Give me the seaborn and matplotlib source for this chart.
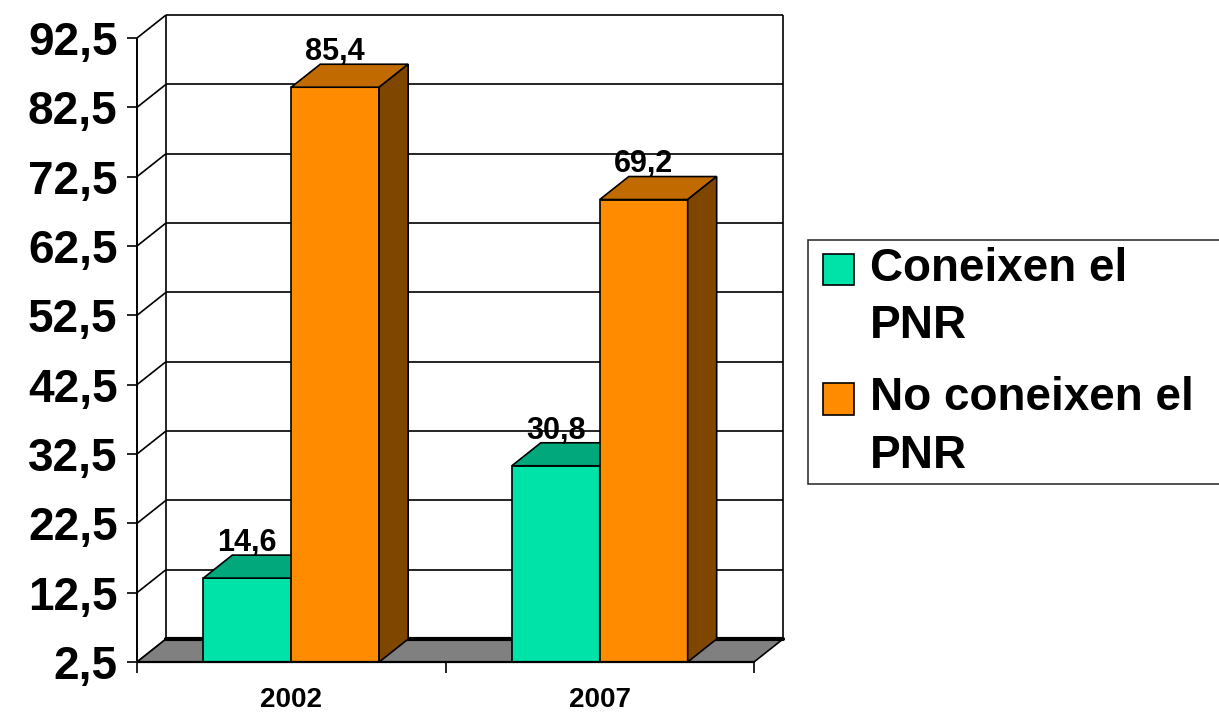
import numpy as np
import pandas as pd
import matplotlib
matplotlib.use('Agg')
import matplotlib.pyplot as plt
from matplotlib.patches import Polygon, Rectangle, Patch
from matplotlib.legend_handler import HandlerPatch
import seaborn as sns

# ---------------- dades ----------------
anys = ['2002', '2007']
series = ['Coneixen el\nPNR', 'No coneixen el\nPNR']
coneixen = [14.6, 30.8]
no_coneixen = [85.4, 69.2]
y_ticks = [2.5, 12.5, 22.5, 32.5, 42.5, 52.5, 62.5, 72.5, 82.5, 92.5]
y_tick_labels = ['2,5', '12,5', '22,5', '32,5', '42,5', '52,5', '62,5', '72,5', '82,5', '92,5']

# colors (cara frontal, cara superior, cara lateral)
front_colors = ['#00E3A8', '#FF8C00']
top_colors = ['#00A87C', '#C06A00']
side_colors = ['#007F5E', '#7F4600']

W, H = 1219, 714
YMIN, YMAX = 2.5, 92.5
# profunditat 3D en unitats de dades (29 px a la dreta, 23 px amunt)
DX = 29 * 2 / 617
DY = 23 * (YMAX - YMIN) / 624

sns.set_theme(style='white')
plt.rcParams['font.family'] = ['Liberation Sans', 'DejaVu Sans']
plt.rcParams['text.color'] = 'black'
plt.rcParams['xtick.color'] = 'black'
plt.rcParams['ytick.color'] = 'black'

fig = plt.figure(figsize=(W / 100, H / 100), dpi=100)
ax = fig.add_axes([137 / W, 52 / H, 646 / W, 647 / H])

df = pd.DataFrame({
    'any': anys * 2,
    'serie': [series[0]] * len(anys) + [series[1]] * len(anys),
    'valor': coneixen + no_coneixen,
})

sns.barplot(data=df, x='any', y='valor', hue='serie', hue_order=series,
            palette=front_colors, saturation=1, width=0.57,
            edgecolor='black', linewidth=1.2, legend=False, ax=ax)

ax.set_xlim(-0.5, 1.5 + DX)
ax.set_ylim(YMIN, YMAX + DY)
ax.set_xlabel('')
ax.set_ylabel('')
for s in ax.spines.values():
    s.set_visible(False)

# parets del fons i lateral
line_kw = dict(color='black', lw=1.2, clip_on=False, zorder=1, solid_capstyle='butt')
for y in y_ticks:
    ax.plot([-0.5 + DX, 1.5 + DX], [y + DY, y + DY], **line_kw)
    ax.plot([-0.5, -0.5 + DX], [y, y + DY], **line_kw)
ax.plot([-0.5 + DX] * 2, [YMIN + DY, YMAX + DY], **line_kw)
ax.plot([1.5 + DX] * 2, [YMIN + DY, YMAX + DY], **line_kw)

# terra
floor = Polygon([(-0.5, YMIN), (1.5, YMIN), (1.5 + DX, YMIN + DY), (-0.5 + DX, YMIN + DY)],
                closed=True, facecolor='#808080', edgecolor='black', lw=1.2,
                clip_on=False, zorder=2)
ax.add_patch(floor)
ax.plot([-0.5 + DX, 1.5 + DX], [YMIN + DY, YMIN + DY], color='black', lw=3,
        clip_on=False, zorder=2)

# cares 3D de les barres
for k, cont in enumerate(ax.containers):
    for bar in cont:
        x0 = bar.get_x()
        x1 = x0 + bar.get_width()
        h = bar.get_height()
        bar.set_zorder(3 + k)
        top = Polygon([(x0, h), (x1, h), (x1 + DX, h + DY), (x0 + DX, h + DY)],
                      closed=True, facecolor=top_colors[k], edgecolor='black',
                      lw=1.2, zorder=3 + k, clip_on=False)
        side = Polygon([(x1, YMIN), (x1 + DX, YMIN + DY), (x1 + DX, h + DY), (x1, h)],
                       closed=True, facecolor=side_colors[k], edgecolor='black',
                       lw=1.2, zorder=3 + k, clip_on=False)
        ax.add_patch(top)
        ax.add_patch(side)
        ax.text(x0 + bar.get_width() / 2, h + DY + 0.6, f'{h:.1f}'.replace('.', ','),
                ha='center', va='baseline', fontsize=22, fontweight='bold',
                color='black', zorder=10)

# eix frontal
ax.plot([-0.5, -0.5], [YMIN, YMAX], color='black', lw=1.4, clip_on=False, zorder=10)
ax.plot([-0.5, 1.5], [YMIN, YMIN], color='black', lw=1.6, clip_on=False, zorder=10)

# ticks
ax.set_yticks(y_ticks, y_tick_labels)
ax.tick_params(axis='y', length=7, width=1.2, direction='out', pad=7,
               labelsize=33, colors='black', left=True)
for t in ax.get_yticklabels():
    t.set_fontweight('bold')
ax.set_xticks([0, 1], anys)
ax.set_xticks([-0.5, 0.5, 1.5], minor=True)
ax.tick_params(axis='x', which='major', length=0, pad=18, labelsize=20, colors='black')
ax.tick_params(axis='x', which='minor', length=8, width=1.2, direction='out',
               bottom=True, colors='black')
for t in ax.get_xticklabels():
    t.set_fontweight('bold')


# llegenda: el quadrat alineat amb la primera línia
LINESP = 1.4
def first_line_patch(legend, orig_handle, xdescent, ydescent, width, height, fontsize):
    shift = fontsize * 0.63
    return Rectangle((-xdescent + width - height, -ydescent + shift), height, height)

handles = [Patch(facecolor=c, edgecolor='black', lw=1.2) for c in front_colors]
leg = fig.legend(handles, series, loc='upper left',
                 bbox_to_anchor=(808 / W, 1 - 240 / H - 0.01, 440 / W, 0.01),
                 bbox_transform=fig.transFigure, mode='expand',
                 frameon=True, fancybox=False, borderaxespad=0,
                 prop=dict(weight='bold', size=33),
                 handlelength=0.86, handleheight=0.68, handletextpad=0.35,
                 borderpad=0.15, labelspacing=0.6,
                 handler_map={Patch: HandlerPatch(patch_func=first_line_patch)})
leg.get_frame().set_edgecolor('black')
leg.get_frame().set_linewidth(1.2)
for t in leg.get_texts():
    t.set_linespacing(LINESP)
    t.set_color('black')

fig.savefig('out.png', dpi=100, facecolor='white')
